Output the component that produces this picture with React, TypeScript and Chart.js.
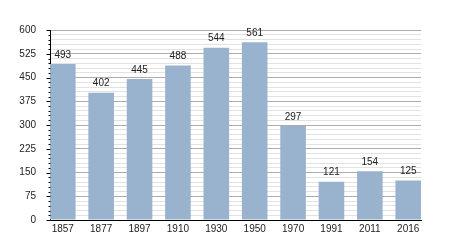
import React, { useEffect, useRef } from "react";
import { Chart, registerables } from "chart.js";

Chart.register(...registerables);

const years = ["1857", "1877", "1897", "1910", "1930", "1950", "1970", "1991", "2011", "2016"];
const population = [493, 402, 445, 488, 544, 561, 297, 121, 154, 125];
const yMax = 600;
const yMajorStep = 75;
const yMinorStep = 15;

const FONT = "'Liberation Sans', Arial, sans-serif";

const valueLabels = {
  id: "valueLabels",
  afterDatasetsDraw(chart: any) {
    const ctx = chart.ctx;
    const meta = chart.getDatasetMeta(0);
    ctx.save();
    ctx.font = `10px ${FONT}`;
    ctx.fillStyle = "#222";
    ctx.textAlign = "center";
    ctx.textBaseline = "bottom";
    meta.data.forEach((bar: any, i: number) => {
      ctx.fillText(String(population[i]), bar.x, bar.y - 4);
    });
    ctx.restore();
  },
};

const yTickMarks = {
  id: "yTickMarks",
  afterDraw(chart: any) {
    const ctx = chart.ctx;
    const scale = chart.scales.y;
    const left = Math.round(chart.chartArea.left) + 0.5;
    ctx.save();
    ctx.strokeStyle = "#000";
    ctx.lineWidth = 1;
    scale.ticks.forEach((t: any) => {
      const y = Math.round(scale.getPixelForValue(t.value)) + 0.5;
      const len = t.value % yMajorStep === 0 ? 4 : 2;
      ctx.beginPath();
      ctx.moveTo(left - len, y);
      ctx.lineTo(left, y);
      ctx.stroke();
    });
    ctx.restore();
  },
};

export default function App() {
  const ref = useRef<HTMLCanvasElement>(null);
  useEffect(() => {
    if (!ref.current) return;
    const chart = new Chart(ref.current, {
      type: "bar",
      data: {
        datasets: [
          {
            data: years.map((_, i) => ({ x: i, y: population[i] })) as any,
            backgroundColor: "#99b3cf",
            borderWidth: 0,
            categoryPercentage: 1,
            barPercentage: 0.667,
          },
        ],
      },
      options: {
        animation: false,
        responsive: true,
        maintainAspectRatio: false,
        layout: { padding: { top: 30, right: 29, bottom: 0, left: 0 } },
        plugins: { legend: { display: false }, tooltip: { enabled: false } },
        scales: {
          x: {
            type: "linear",
            offset: false,
            min: -0.333,
            max: years.length - 1 + 0.333,
            afterBuildTicks: (s: any) => {
              s.ticks = years.map((_, i) => ({ value: i }));
            },
            afterFit: (s: any) => {
              s.height = 30;
            },
            grid: { display: false, drawTicks: false, offset: false },
            border: { display: true, color: "#000", width: 1 },
            ticks: {
              padding: 3,
              color: "#222",
              font: { family: FONT, size: 10 },
              autoSkip: false,
              maxRotation: 0,
              callback: (v: any) => years[Math.round(v)] ?? "",
            },
          },
          y: {
            min: 0,
            max: yMax,
            afterFit: (s: any) => {
              s.width = 50;
            },
            grid: {
              drawTicks: false,
              color: (c: any) => (c.tick && c.tick.value % yMajorStep === 0 ? "#acacac" : "#e2e2e2"),
            },
            border: { display: true, color: "#000", width: 1 },
            ticks: {
              stepSize: yMinorStep,
              autoSkip: false,
              padding: 14,
              color: "#222",
              font: { family: FONT, size: 10 },
              callback: (v: any) => (v % yMajorStep === 0 ? String(v) : ""),
            },
          },
        },
      },
      plugins: [valueLabels, yTickMarks],
    });
    return () => chart.destroy();
  }, []);
  return (
    <div style={{ position: "absolute", left: 0, top: 0, width: 450, height: 250 }}>
      <canvas ref={ref} />
    </div>
  );
}
